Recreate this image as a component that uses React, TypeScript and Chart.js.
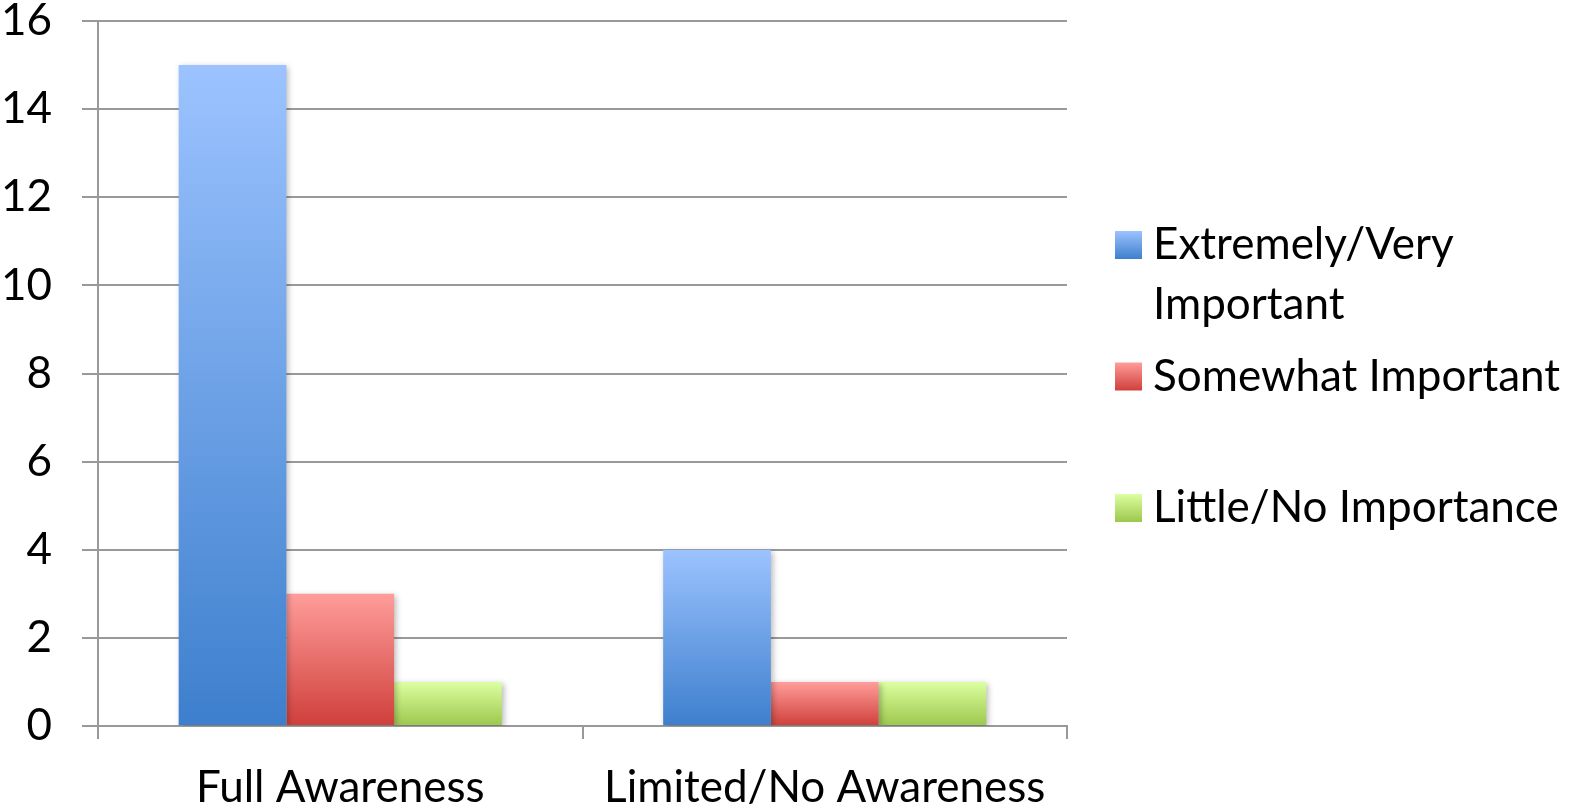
import React, { useEffect, useRef } from "react";
import { Chart, registerables } from "chart.js";

Chart.register(...registerables);

const categories = ["Full Awareness", "Limited/No Awareness"];
const seriesNames = ["Extremely/Very Important", "Somewhat Important", "Little/No Importance"];
const legendLines = [["Extremely/Very", "Important"], ["Somewhat Important"], ["Little/No Importance"]];
const extremelyVery = [15, 4];
const somewhat = [3, 1];
const littleNo = [1, 1];
const yTicks = [0, 2, 4, 6, 8, 10, 12, 14, 16];

const gradColors: [string, string][] = [
  ["#9cc3ff", "#3d7fcd"],
  ["#ff9d9a", "#cf3f3b"],
  ["#dcffa0", "#9cc74c"],
];

const FONT = "Lato, 'Open Sans', sans-serif";
const FSIZE = 44;

function barGradient(ctx: any, idx: number) {
  const chart = ctx.chart;
  const area = chart.chartArea;
  if (!area || ctx.raw === undefined) return gradColors[idx][1];
  const y = chart.scales.y;
  const top = y.getPixelForValue(ctx.raw);
  const bot = y.getPixelForValue(0);
  const g = chart.ctx.createLinearGradient(0, top, 0, bot);
  g.addColorStop(0, gradColors[idx][0]);
  g.addColorStop(1, gradColors[idx][1]);
  return g;
}

const shadowPlugin = {
  id: "barShadow",
  beforeDatasetsDraw(chart: any) {
    const c = chart.ctx;
    c.save();
    c.shadowColor = "rgba(0,0,0,0.28)";
    c.shadowBlur = 6;
    c.shadowOffsetX = 2;
    c.shadowOffsetY = 2;
  },
  afterDatasetsDraw(chart: any) {
    chart.ctx.restore();
  },
};

const legendPlugin = {
  id: "customLegend",
  afterDraw(chart: any) {
    const c = chart.ctx;
    const area = chart.chartArea;
    const boxX = area.right + 48;
    const boxW = 27;
    const boxH = 28;
    const textX = boxX + 38;
    const lineH = 60;
    const spacing = 131.5;
    const midY = (area.top + area.bottom) / 2 + 3;
    c.save();
    c.font = `${FSIZE}px ${FONT}`;
    c.fillStyle = "#000";
    c.textAlign = "left";
    c.textBaseline = "middle";
    seriesNames.forEach((name, i) => {
      const cy = midY + (i - 1) * spacing;
      const g = c.createLinearGradient(0, cy - boxH / 2, 0, cy + boxH / 2);
      g.addColorStop(0, gradColors[i][0]);
      g.addColorStop(1, gradColors[i][1]);
      c.fillStyle = g;
      c.fillRect(boxX, cy - boxH / 2, boxW, boxH);
      c.fillStyle = "#000";
      legendLines[i].forEach((line, j) => {
        c.fillText(line, textX, cy + j * lineH);
      });
    });
    c.restore();
  },
};

export default function App() {
  const ref = useRef<HTMLCanvasElement>(null);
  useEffect(() => {
    if (!ref.current) return;
    const chart = new Chart(ref.current, {
      type: "bar",
      data: {
        labels: categories,
        datasets: [
          { label: seriesNames[0], data: extremelyVery, backgroundColor: (ctx: any) => barGradient(ctx, 0) },
          { label: seriesNames[1], data: somewhat, backgroundColor: (ctx: any) => barGradient(ctx, 1) },
          { label: seriesNames[2], data: littleNo, backgroundColor: (ctx: any) => barGradient(ctx, 2) },
        ],
      },
      options: {
        animation: false,
        responsive: false,
        maintainAspectRatio: false,
        layout: { padding: { top: 21, right: 506, left: 0, bottom: 0 } },
        datasets: { bar: { categoryPercentage: 0.667, barPercentage: 1 } },
        plugins: {
          legend: { display: false },
          tooltip: { enabled: false },
        },
        scales: {
          x: {
            grid: {
              display: true,
              drawOnChartArea: false,
              drawTicks: true,
              tickLength: 13,
              offset: true,
              color: "#999",
              lineWidth: 2,
            },
            border: { display: true, color: "#999", width: 2 },
            ticks: { color: "#000", font: { family: FONT, size: FSIZE }, padding: 22, maxRotation: 0 },
            afterFit: (s: any) => { s.height = 83; s.paddingLeft = 0; s.paddingRight = 0; },
          },
          y: {
            min: 0,
            max: 16,
            afterBuildTicks: (s: any) => { s.ticks = yTicks.map((v) => ({ value: v })); },
            grid: { color: "#999", lineWidth: 2, tickLength: 16, drawTicks: true },
            border: { display: true, color: "#999", width: 2 },
            ticks: { color: "#000", font: { family: FONT, size: FSIZE }, padding: 30 },
            afterFit: (s: any) => { s.width = 98; s.paddingTop = 0; s.paddingBottom = 0; },
          },
        },
      },
      plugins: [shadowPlugin, legendPlugin],
    });
    return () => chart.destroy();
  }, []);
  return (
    <div style={{ position: "fixed", left: 0, top: 0, width: 1573, height: 809, background: "#fff" }}>
      <canvas ref={ref} width={1573} height={809} style={{ display: "block" }} />
    </div>
  );
}
